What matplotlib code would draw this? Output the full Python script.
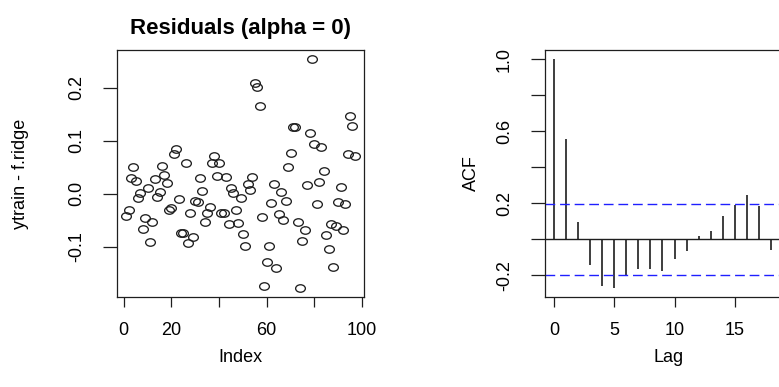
import numpy as np
import matplotlib
matplotlib.use('Agg')
import matplotlib.pyplot as plt
from matplotlib.path import Path
from matplotlib.transforms import Affine2D

plt.rcParams['font.family'] = 'Liberation Sans'
plt.rcParams['axes.unicode_minus'] = False

# residuals ytrain - f.ridge, in index order
residuals = [
    -0.041, -0.030, 0.030, 0.050, 0.025, -0.007, 0.001, -0.067, -0.046, 0.012,
    -0.091, -0.053, 0.028, -0.005, 0.004, 0.053, 0.035, 0.020, -0.031, -0.027,
    0.075, 0.084, -0.010, -0.074, -0.073, 0.059, -0.092, -0.035, -0.082, -0.013,
    -0.015, 0.030, 0.006, -0.053, -0.036, -0.025, 0.058, 0.072, 0.033, 0.058,
    -0.035, -0.036, 0.031, -0.057, 0.011, 0.002, -0.030, -0.055, -0.007, -0.076,
    -0.099, 0.018, 0.008, 0.032, 0.209, 0.201, 0.165, -0.044, -0.173, -0.128,
    -0.099, -0.018, 0.019, -0.140, -0.038, 0.004, -0.050, -0.013, 0.050, 0.077,
    0.126, 0.126, -0.052, -0.177, -0.089, -0.068, 0.017, 0.115, 0.254, 0.094,
    -0.019, 0.023, 0.089, 0.044, -0.077, -0.104, -0.057, -0.137, -0.060, -0.015,
    0.013, -0.068, -0.019, 0.075, 0.146, 0.128, 0.072,
]
index = list(range(1, len(residuals) + 1))

# autocorrelations (visible lags only)
acf_lags = list(range(19))
acf_vals = [1.0, 0.556, 0.096, -0.143, -0.259, -0.269, -0.200, -0.163, -0.167,
            -0.174, -0.111, -0.065, 0.019, 0.046, 0.130, 0.190, 0.248, 0.185, -0.059]
lag_max = 19

x_ticks_left = [0, 20, 40, 60, 80, 100]
x_labels_left = ['0', '20', '', '60', '', '100']
y_ticks_left = [-0.1, 0.0, 0.1, 0.2]
y_labels_left = ['-0.1', '0.0', '0.1', '0.2']
x_ticks_acf = [0, 5, 10, 15]
y_ticks_acf = [-0.2, 0.0, 0.2, 0.4, 0.6, 0.8, 1.0]
y_labels_acf = ['-0.2', '', '0.2', '', '0.6', '', '1.0']

W, H = 779, 387
fig = plt.figure(figsize=(W / 100, H / 100), dpi=100)

ink = '#1e1e1e'
fs = 13

# R style open circles, slightly wide like the reference
ellipse = Affine2D().scale(1.3, 1.0).transform_path(Path.unit_circle())


def style_axes(ax):
    for s in ax.spines.values():
        s.set_color(ink)
        s.set_linewidth(0.9)
    ax.tick_params(axis='x', direction='out', length=7.2, width=0.9, color=ink,
                   labelsize=fs, pad=10.5)
    ax.tick_params(axis='y', direction='out', length=10, width=0.9, color=ink,
                   labelsize=fs, pad=13, labelrotation=90)
    for lab in ax.get_yticklabels():
        lab.set_va('center')


# ---- left: residuals vs index
ax1 = fig.add_axes([117 / W, 1 - 297 / H, 247 / W, 247 / H])
ax1.plot(index, residuals, linestyle='none', marker=ellipse, markersize=7,
         markerfacecolor='none', markeredgecolor=ink, markeredgewidth=0.95)
ax1.margins(0.04)
ax1.set_xticks(x_ticks_left)
ax1.set_xticklabels(x_labels_left)
ax1.set_yticks(y_ticks_left)
ax1.set_yticklabels(y_labels_left)
style_axes(ax1)
ax1.set_title('Residuals (alpha = 0)', fontsize=16, fontweight='bold', pad=11.5)
ax1.set_xlabel('Index', fontsize=fs)
ax1.set_ylabel('ytrain - f.ridge', fontsize=fs)
ax1.xaxis.set_label_coords(0.5, -0.212)
ax1.yaxis.set_label_coords(-0.358, 0.5)

# ---- right: ACF of residuals
clim = 1.96 / np.sqrt(len(residuals))
ax2 = fig.add_axes([545 / W, 1 - 297 / H, 247 / W, 247 / H])
ax2.vlines(acf_lags, 0, acf_vals, colors=ink, linewidth=1.2)
ax2.axhline(0, color=ink, linewidth=1.0)
for c in (clim, -clim):
    ax2.axhline(c, color='#1f1fff', linewidth=1.0, linestyle=(0, (7, 3.5)))
lo = min(min(acf_vals), -clim)
hi = max(max(acf_vals), clim)
ax2.set_ylim(lo - 0.04 * (hi - lo), hi + 0.04 * (hi - lo))
ax2.set_xlim(-0.04 * lag_max, lag_max * 1.04)
ax2.set_xticks(x_ticks_acf)
ax2.set_yticks(y_ticks_acf)
ax2.set_yticklabels(y_labels_acf)
style_axes(ax2)
ax2.set_xlabel('Lag', fontsize=fs)
ax2.set_ylabel('ACF', fontsize=fs)
ax2.xaxis.set_label_coords(0.5, -0.212)
ax2.yaxis.set_label_coords(-0.263, 0.5)

fig.savefig('out.png', dpi=100)
